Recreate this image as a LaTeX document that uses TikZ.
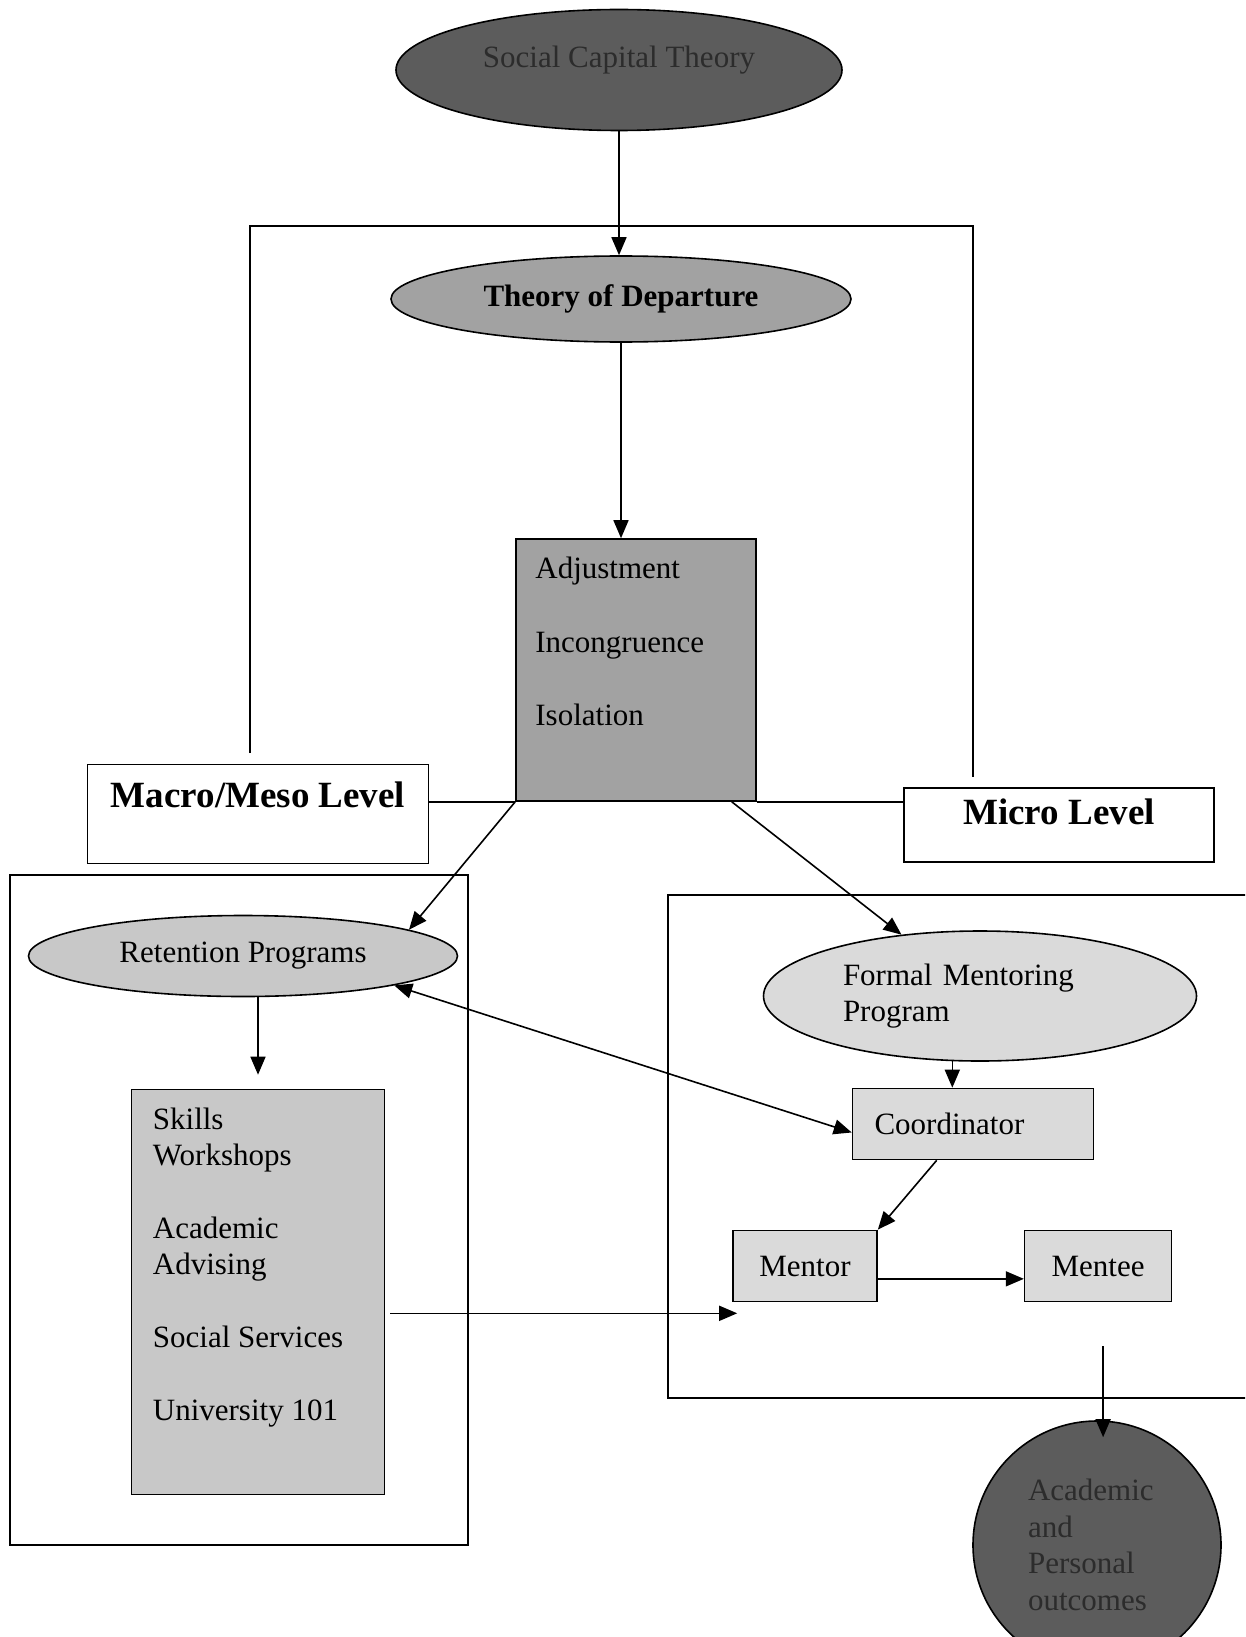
\documentclass[tikz,border=0pt]{standalone}
\usepackage{fontspec}
\setmainfont{Liberation Serif}
\usetikzlibrary{arrows.meta,positioning,calc,shapes.geometric}
\definecolor{darkfill}{HTML}{5C5C5C}
\definecolor{midfill}{HTML}{A2A2A2}
\definecolor{lightfill}{HTML}{C8C8C8}
\definecolor{palefill}{HTML}{DADADA}
\definecolor{darktext}{HTML}{2C2C2C}
\tikzset{
  % ellipses and boxes
  theory/.style={ellipse,draw,line width=1.6pt,inner sep=2pt},
  levelbox/.style={draw,fill=white,line width=1.6pt,inner sep=4pt,
                   font=\fontsize{37}{42}\selectfont\bfseries,text height=26pt},
  listbox/.style={draw,line width=1.6pt},
  listtext/.style={align=left,inner sep=0pt,font=\fontsize{31}{36.5}\selectfont},
  rolebox/.style={draw,line width=1.6pt,fill=palefill,minimum height=71pt},
  framebox/.style={draw,line width=1.4pt},
  % connectors
  flow/.style={line width=1.6pt,-{Triangle[length=18pt,width=15pt]}},
  flowbi/.style={line width=1.6pt,{Triangle[length=18pt,width=15pt]}-{Triangle[length=18pt,width=15pt]}},
}

\begin{document}
\begin{tikzpicture}[x=1pt,y=-1pt,
  every node/.style={font=\fontsize{31}{36.5}\selectfont},
]
\clip (0,0) rectangle (1245,1637);
\fill[white] (0,0) rectangle (1245,1637);

% frames
\draw[framebox] (250,753) |- (973,226) -- (973,777);
\draw[framebox] (10,875) rectangle (468,1545);
\draw[framebox] (1250,895) -| (668,1398) -- (1250,1398);

% theories
\node[theory,fill=darkfill,text=darktext,minimum width=446pt,minimum height=121pt,text depth=27pt] (sct) at (619,70) {Social Capital Theory};
\node[theory,fill=midfill,minimum width=460pt,minimum height=86pt,font=\fontsize{31}{36.5}\selectfont\bfseries] (td) at (621,299) {Theory of Departure};

\node[listbox,fill=midfill,minimum width=240pt,minimum height=262pt] (issues) at (636,670) {};
\node[listtext,anchor=north west] (issuelist) at ($(issues.north west)+(20,19)$) {Adjustment\\[37pt]Incongruence\\[37pt]Isolation};

% levels
\node[levelbox,minimum width=341pt,minimum height=99pt,text depth=40pt] (macro) at (258,814) {Macro/Meso Level};
\node[levelbox,minimum width=310pt,minimum height=74pt,text depth=28pt] (micro) at (1059,825) {Micro Level};
\draw[framebox] (macro.east |- issues.south) -- (issues.south west);
\draw[framebox] (issues.south east) -- (micro.west |- issues.south);

% macro/meso side
\node[theory,fill=lightfill,minimum width=429pt,minimum height=81pt] (rp) at (243,956) {Retention Programs};
\node[listbox,fill=lightfill,minimum width=253pt,minimum height=405pt] (skills) at (258,1292) {};
\node[listtext,anchor=north west] (skilllist) at ($(skills.north west)+(22,19)$) {Skills\\Workshops\\[36pt]Academic\\Advising\\[36pt]Social Services\\[37pt]University 101};

% micro side
\node[theory,fill=palefill,minimum width=433pt,minimum height=130pt,text width=274pt,align=left] (fmp) at (980,996) {Formal Mentoring\\Program};
\node[rolebox,minimum width=241pt,text width=197pt,inner xsep=22pt,align=left] (coord) at (973,1124) {Coordinator};
\node[rolebox,minimum width=144pt] (mentor) at (805,1266) {Mentor};
\node[rolebox,minimum width=147pt,right=146pt of mentor] (mentee) {Mentee};

\node[circle,draw,line width=1.6pt,fill=darkfill,text=darktext,minimum size=248pt,text width=138pt,align=left,inner sep=2pt] (outcome) at (1097,1545) {Academic\\and\\Personal\\outcomes};

% connectors
\draw[flow] (sct.south) -- (sct.south |- td.north);
\draw[flow] (td.south) -- (td.south |- issues.north);
\draw[flow] (issues.south west) -- (rp.9);
\draw[flow] (issues.-54) -- (fmp.142);
\draw[flow,shorten >=14pt] (skills.north |- rp.south) -- (skills.north);
\draw[flowbi] (rp.-11) -- (coord.-176);
\draw[flow] (fmp.-113) -- (fmp.-113 |- coord.north);
\draw[flow] (coord.-135) -- (mentor.north east);
\draw[flow] (mentor.-10) -- (mentor.-10 -| mentee.west);
\coordinate (mentorin) at ($(mentor.south west)+(5,11)$);
\draw[flow] ([xshift=5pt]skills.east |- mentorin) -- (mentorin);
\coordinate (menteeout) at ($(mentee.south)+(5,44)$);
\draw[flow,shorten >=-17pt] (menteeout) -- (menteeout |- outcome.north);
\end{tikzpicture}
\end{document}
